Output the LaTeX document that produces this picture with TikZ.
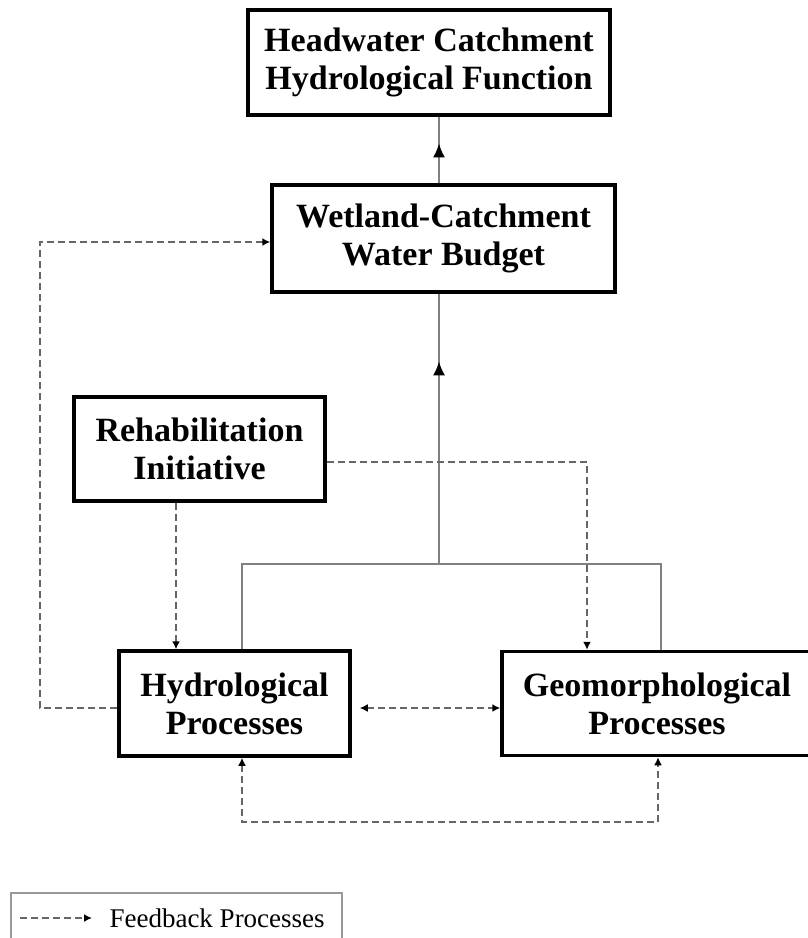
\documentclass[tikz,border=0pt]{standalone}
\usepackage{fontspec}
\setmainfont{Liberation Serif}
\usetikzlibrary{arrows.meta,calc}
\tikzset{
  box/.style={draw=black,line width=3.5pt,align=center,inner sep=0pt,
    font=\fontsize{34}{38}\selectfont\bfseries},
  link/.style={draw=gray,line width=2pt},
  fb/.style={draw=black!60,line width=2pt,dash pattern=on 7pt off 4pt},
  bigtip/.style={-{Latex[length=14pt,width=12pt,color=black]}},
  smalltip/.style={-{Latex[length=8pt,width=8pt,color=black]}},
  bothtips/.style={{Latex[length=8pt,width=8pt,color=black]}-{Latex[length=8pt,width=8pt,color=black]}},
}
\begin{document}
\begin{tikzpicture}[x=1pt,y=-1pt]
\useasboundingbox (0,0) rectangle (807,938);
\node[box,minimum width=362,minimum height=105] (hw) at (429,62.5) {Headwater Catchment\\Hydrological Function};
\node[box,minimum width=343,minimum height=107] (wcwb) at (443.5,238.5) {Wetland-Catchment\\Water Budget};
\node[box,minimum width=251,minimum height=104] (ri) at (199.5,449) {Rehabilitation\\Initiative};
\node[box,minimum width=231,minimum height=105] (hp) at (234.5,703.5) {Hydrological\\Processes};
\node[box,minimum width=310,minimum height=104] (gp) at (657,703.5) {Geomorphological\\Processes};
\coordinate (trunk) at (439,564);
\coordinate (jl) at (242,564);
\coordinate (jr) at (661,564);
% solid links
\draw[link] (wcwb.north -| trunk) -- (hw.south -| trunk);
\draw[link,bigtip] (wcwb.north -| trunk) -- ($(wcwb.north -| trunk)!0.6!(hw.south -| trunk)$);
\draw[link] (hp.north -| jl) -- (jl) -- (jr) -- (gp.north -| jr);
\draw[link] (trunk) -- (wcwb.south -| trunk);
\draw[link,bigtip] (trunk) -- ($(trunk)!0.75!(wcwb.south -| trunk)$);
% feedback
\draw[fb,smalltip] ($(hp.west)+(0,4.5)$) -| ($(wcwb.west)+(-230,3.5)$) -- ($(wcwb.west)+(0,3.5)$);
\coordinate (rd) at ($(ri.south)+(-23.5,0)$);
\draw[fb,smalltip] (rd) -- (rd |- hp.north);
\draw[fb,smalltip] ($(ri.east)+(0,13)$) -| ($(gp.north)+(-70,0)$);
\draw[fb,bothtips] ($(hp.east)+(8,4.5)$) -- ($(gp.west)+(0,4.5)$);
\draw[fb,bothtips] ($(hp.south)+(7.5,0)$) -- ++(0,64) -| ($(gp.south)+(1,0)$);
% legend
\draw[draw=gray!80,line width=2pt] (11,893) rectangle (342,950);
\node[font=\fontsize{27}{30}\selectfont,anchor=west] (fbtext) at (106,918) {Feedback Processes};
\coordinate (fbstart) at (20,918);
\draw[fb,smalltip] (fbstart) -- ($(fbtext.west)+(-14,0)$);
\end{tikzpicture}
\end{document}
